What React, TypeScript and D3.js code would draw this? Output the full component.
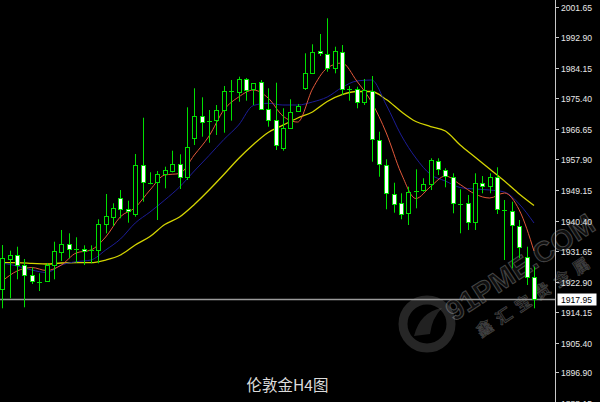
import React from "react";
import * as d3 from "d3";

const W = 600;
const H = 402;

// OHLC for each H4 bar (left to right)
const opens = [1920.70,1929.47,1930.44,1927.66,1924.80,1922.99,1923.08,1927.66,1931.47,1933.59,
1932.24,1932.33,1931.87,1931.96,1939.32,1941.50,1946.94,1943.62,1942.27,1956.31,
1951.44,1951.35,1953.64,1954.67,1956.59,1952.95,1964.13,1970.34,1969.11,1969.20,
1972.06,1977.50,1977.30,1980.85,1978.08,1980.17,1972.26,1969.20,1961.09,1966.82,
1971.77,1978.28,1982.57,1988.88,1988.10,1984.01,1988.76,1978.08,1977.99,1974.44,
1977.59,1963.47,1956.31,1947.91,1945.33,1942.47,1948.86,1949.14,1950.86,1957.54,
1954.87,1952.78,1945.33,1945.33,1939.89,1951.06,1950.29,1952.95,1943.42,1943.21,
1938.83,1930.04,1924.14];
const highs = [1933.39,1931.76,1932.90,1929.38,1927.00,1925.28,1928.15,1934.33,1937.69,1936.74,
1935.60,1933.30,1933.30,1940.75,1948.00,1945.33,1949.14,1946.08,1959.46,1969.85,
1954.22,1954.59,1955.82,1960.40,1959.37,1972.83,1978.28,1975.70,1972.06,1973.49,
1978.94,1980.65,1981.60,1981.23,1979.79,1980.65,1978.28,1979.88,1972.55,1975.13,
1973.78,1988.30,1990.88,1993.83,1998.33,1990.19,1990.68,1978.94,1978.73,1980.94,
1981.80,1965.84,1957.94,1951.23,1948.20,1950.09,1955.07,1952.50,1958.23,1958.23,
1955.36,1953.93,1949.35,1947.71,1953.93,1953.15,1953.93,1955.65,1946.28,1945.79,
1940.55,1932.90,1927.17];
const lows = [1915.26,1918.12,1923.56,1915.54,1922.22,1920.21,1922.88,1923.56,1928.81,1929.58,
1928.32,1927.66,1928.15,1928.15,1936.74,1938.83,1941.04,1939.78,1941.50,1945.79,
1950.78,1940.55,1949.63,1954.20,1949.43,1952.01,1962.03,1964.41,1962.69,1964.90,
1965.56,1969.00,1974.44,1974.72,1973.49,1972.06,1967.28,1960.60,1960.40,1966.62,
1971.49,1977.79,1982.37,1987.53,1983.03,1982.57,1976.36,1974.72,1972.55,1973.49,
1957.25,1952.95,1943.62,1942.64,1940.75,1939.12,1943.90,1948.66,1949.14,1953.44,
1949.92,1942.47,1936.74,1937.69,1937.69,1948.20,1948.20,1942.27,1929.09,1926.71,
1929.58,1921.93,1915.26];
const closes = [1929.58,1930.44,1927.75,1924.80,1923.08,1922.88,1927.66,1931.67,1933.68,1932.24,
1932.16,1931.76,1931.96,1939.41,1941.70,1944.07,1943.62,1943.04,1956.31,1951.44,
1951.24,1953.64,1954.87,1956.51,1952.95,1961.38,1970.43,1968.71,1969.00,1972.06,
1977.59,1977.42,1980.85,1977.79,1979.71,1972.43,1969.20,1962.03,1966.82,1971.49,
1973.29,1982.57,1988.76,1988.30,1984.01,1988.88,1978.08,1977.99,1974.44,1977.79,
1963.67,1956.51,1948.37,1945.05,1942.18,1948.66,1948.77,1950.78,1957.74,1955.07,
1953.15,1945.33,1945.22,1940.06,1951.06,1950.29,1952.95,1943.62,1943.33,1939.12,
1932.90,1924.31,1917.95];

const maIndex = [0,2,4,6,8,10,12,14,16,18,20,22,24,26,28,30,32,34,36,38,40,42,44,46,48,50,52,54,56,58,60,62,64,66,68,70,72];
const maFast = [1923.08,1925.94,1926.94,1926.08,1927.66,1931.10,1931.96,1935.68,1941.50,1944.13,
1949.14,1953.44,1953.87,1959.17,1964.61,1972.06,1975.78,1977.79,1975.50,1970.34,
1968.62,1978.08,1984.09,1985.52,1980.37,1974.35,1965.47,1954.01,1946.71,1950.15,
1953.15,1950.72,1948.00,1946.85,1948.29,1943.42,1931.67];
const maMid = [1928.23,1927.37,1926.23,1925.51,1927.66,1928.61,1929.09,1931.96,1935.11,1939.69,
1942.84,1946.28,1950.00,1954.59,1959.03,1963.61,1967.76,1973.35,1973.98,1973.49,
1973.49,1974.35,1975.78,1978.51,1980.37,1980.65,1973.49,1964.90,1958.31,1953.58,
1951.72,1949.86,1949.43,1949.14,1948.57,1945.13,1939.69];
const maSlow = [1928.32,1928.32,1928.15,1927.95,1928.23,1928.32,1928.32,1929.09,1930.53,1933.39,
1935.82,1939.26,1941.41,1944.99,1949.14,1953.58,1958.17,1962.18,1965.62,1967.71,
1969.77,1971.49,1974.50,1976.44,1977.36,1977.36,1975.07,1971.63,1968.77,1967.33,
1966.05,1962.03,1958.60,1955.16,1951.72,1948.00,1944.70];

const tickLabels = ["2001.65","1992.90","1984.15","1975.40","1966.65","1957.90","1949.15","1940.40","1931.65","1922.90","1914.15","1905.40","1896.90","1888.15"];
const lastPrice = 1917.95;
const title = "伦敦金H4图";
const watermarkMain = "91PME.COM";
const watermarkSub = "鑫汇宝贵金属";

export default function App() {
  const x = d3.scaleLinear().domain([0, 72]).range([2.3, 534]);
  const y = d3.scaleLinear().domain([1888.42, 2003.57]).range([H, 0]);
  const axisX = 555.5;

  const line = (vals: number[]) =>
    d3.line<number>()
      .x((_, i) => x(maIndex[i]))
      .y((v) => y(v))
      .curve(d3.curveMonotoneX)(vals) || "";

  const candles = opens.map((o, i) => {
    const c = closes[i];
    const cx = Math.round(x(i)) + 0.5;
    const yo = y(o), yc = y(c);
    const top = Math.min(yo, yc), bot = Math.max(yo, yc);
    const doji = bot - top < 1.2;
    const bull = c > o;
    return (
      <g key={i}>
        <line x1={cx} x2={cx} y1={y(highs[i])} y2={y(lows[i])} stroke="#00e000" strokeWidth={1} />
        {doji ? (
          <line x1={cx - 2.5} x2={cx + 2.5} y1={Math.round(yc) + 0.5} y2={Math.round(yc) + 0.5} stroke="#00e000" strokeWidth={1} />
        ) : (
          <rect x={cx - 2} y={Math.round(top) + 0.5} width={4} height={Math.max(1, Math.round(bot) - Math.round(top))}
            fill={bull ? "#000" : "#fff"} stroke="#00e000" strokeWidth={1} />
        )}
      </g>
    );
  });

  const py = Math.round(y(lastPrice)) + 0.5;

  return (
    <div style={{ position: "fixed", left: 0, top: 0, width: W, height: H }}>
      <svg width={W} height={H} style={{ display: "block", background: "#000" }}>
        <rect x={0} y={0} width={W} height={H} fill="#000" />
        {/* watermark */}
        <g>
          <circle cx={427} cy={324} r={24} fill="none" stroke="rgba(255,255,255,0.15)" strokeWidth={9} />
          <path d="M414,336 Q420,312 442,308 Q432,318 430,334 Z" fill="rgba(255,255,255,0.13)" />
          <g transform="translate(454,322) rotate(-33)">
            <text x={0} y={0} fontFamily="Liberation Sans, Arial, sans-serif" fontWeight="bold" fontSize={29}
              fill="rgba(255,255,255,0.07)" stroke="rgba(255,255,255,0.26)" strokeWidth={1}>{watermarkMain}</text>
            <text x={14} y={28} fontFamily="Noto Sans CJK SC" fontWeight="bold" fontSize={16} letterSpacing={7}
              fill="rgba(255,255,255,0.07)" stroke="rgba(255,255,255,0.24)" strokeWidth={0.8}>{watermarkSub}</text>
          </g>
        </g>
        {/* current price line */}
        <line x1={0} x2={axisX} y1={py} y2={py} stroke="#9a9a9a" strokeWidth={1.6} />
        {/* moving averages */}
        <path d={line(maSlow)} fill="none" stroke="#d4d400" strokeWidth={1.3} />
        <path d={line(maMid)} fill="none" stroke="#1c1c96" strokeWidth={1} />
        <path d={line(maFast)} fill="none" stroke="#e2583a" strokeWidth={1} />
        {candles}
        {/* right axis */}
        <line x1={axisX} x2={axisX} y1={0} y2={H} stroke="#c8c8c8" strokeWidth={1} />
        {tickLabels.map((t) => {
          const ty = Math.round(y(parseFloat(t))) + 0.5;
          return (
            <g key={t}>
              <line x1={axisX} x2={axisX + 3.5} y1={ty} y2={ty} stroke="#c8c8c8" strokeWidth={1} />
              <text x={561} y={ty} dominantBaseline="central" fontFamily="Liberation Sans, Arial, sans-serif" fontSize={8.6} fill="#e8e8e8">{t}</text>
            </g>
          );
        })}
        <rect x={557.5} y={py - 6} width={39} height={12} fill="#fff" />
        <text x={561} y={py} dominantBaseline="central" fontFamily="Liberation Sans, Arial, sans-serif" fontSize={8.6} fill="#000">{lastPrice.toFixed(2)}</text>
        {/* title */}
        <text x={287.5} y={383.5} textAnchor="middle" dominantBaseline="central" fontFamily="Noto Sans CJK SC" fontSize={15.5} fill="#dcdcdc">{title}</text>
      </svg>
    </div>
  );
}
